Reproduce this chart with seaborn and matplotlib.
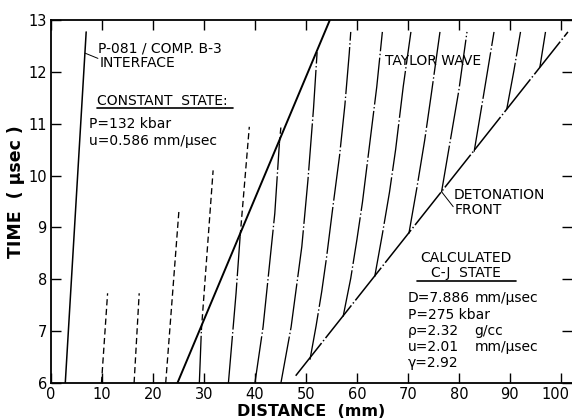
import matplotlib
matplotlib.use("Agg")
import matplotlib.pyplot as plt
import matplotlib.transforms as mtransforms
import seaborn as sns

# ---- data: distance (mm) and time (usec) -------------------------------
interface_x = [2.8, 6.9]
interface_t = [6.0, 12.77]

tail_x = [24.8, 54.7]
tail_t = [6.0, 13.0]

front_x = [48.0, 101.4]
front_t = [6.14, 12.77]

# particle paths inside the Taylor wave (dash-dot)
taylor_x = [
    [29.1, 29.5],
    [34.8, 36.3, 37.1],
    [40.0, 41.6, 43.9, 44.8],
    [45.1, 47.1, 49.2, 50.4, 51.5, 52.2],
    [50.8, 52.0, 53.1, 54.05, 55.3, 56.6, 57.65, 58.5, 58.8],
    [57.3, 58.8, 60.0, 61.1, 62.5, 63.9, 65.0],
    [63.5, 65.0, 66.4, 67.6, 69.1, 70.6],
    [70.2, 71.8, 73.3, 74.6, 76.3],
    [76.6, 78.3, 80.0, 81.6],
    [83.0, 84.8, 86.9],
    [89.4, 90.8, 92.1],
    [95.9, 97.0],
]
taylor_t = [
    [6.0, 7.02],
    [6.0, 7.73, 8.83],
    [6.0, 7.08, 9.27, 10.62],
    [6.0, 7.08, 8.63, 9.91, 11.3, 12.38],
    [6.45, 7.1, 7.76, 8.42, 9.4, 10.38, 11.36, 12.35, 12.77],
    [7.28, 8.02, 8.76, 9.49, 10.6, 11.71, 12.77],
    [8.05, 8.87, 9.68, 10.5, 11.72, 12.77],
    [8.88, 9.78, 10.68, 11.57, 12.77],
    [9.68, 10.66, 11.64, 12.77],
    [10.46, 11.52, 12.77],
    [11.28, 12.02, 12.77],
    [12.09, 12.77],
]

# particle paths in the constant state (dashed)
const_x = [
    [9.9, 11.1],
    [16.3, 17.3],
    [22.5, 25.1],
    [29.5, 31.8],
    [37.1, 38.9],
    [44.8, 45.1],
]
const_t = [
    [6.0, 7.73],
    [6.0, 7.73],
    [6.0, 9.33],
    [7.02, 10.1],
    [8.83, 10.94],
    [10.62, 10.94],
]

x_ticks = [0, 10, 20, 30, 40, 50, 60, 70, 80, 90, 100]
t_ticks = [6, 7, 8, 9, 10, 11, 12, 13]

constant_state = ["P=132 kbar", "u=0.586 mm/\u03bcsec"]
cj_names = ["D=7.886", "P=275 kbar", "\u03c1=2.32", "u=2.01", "\u03b3=2.92"]
cj_units = ["mm/\u03bcsec", "", "g/cc", "mm/\u03bcsec", ""]

# ---- figure ---------------------------------------------------------------
sns.set_theme(style="ticks")
plt.rcParams['font.family'] = ['DejaVu Sans']
plt.rcParams['lines.scale_dashes'] = False
INK = "black"
plt.rcParams.update({"text.color": INK, "axes.labelcolor": INK,
                     "xtick.color": INK, "ytick.color": INK})

fig = plt.figure(figsize=(5.72, 4.19), dpi=100)
ax = fig.add_axes([51 / 572, 36 / 419, 521 / 572, 363 / 419])

DASHDOT = (0, (34, 1.8, 1, 1.8))
DASHED = (0, (4.5, 2.5))


def path(xs, ts, lw, ls):
    sns.lineplot(x=xs, y=ts, ax=ax, sort=False, estimator=None,
                 color=INK, linewidth=lw, linestyle=ls)


path(interface_x, interface_t, 1.1, "-")
path(tail_x, tail_t, 1.4, "-")
path(front_x, front_t, 1.1, (0, (30, 1.8, 1, 1.8)))

for xs, ts in zip(taylor_x, taylor_t):
    path(xs, ts, 0.95, DASHDOT)

for xs, ts in zip(const_x, const_t):
    path(xs, ts, 0.95, DASHED)

ax.set_xlim(0, 102.2)
ax.set_ylim(6, 13)
ax.set_xticks(x_ticks)
ax.set_xticklabels([str(v) for v in x_ticks])
ax.set_yticks(t_ticks)
ax.tick_params(direction="in", length=7, width=1.0, top=True, right=True,
               labelsize=10.5, pad=3)
for side in ["left", "bottom", "top"]:
    ax.spines[side].set_linewidth(1.3)
    ax.spines[side].set_color(INK)
ax.spines["right"].set_visible(False)

# keep the last distance label inside the figure edge
last = ax.get_xticklabels()[-1]
last.set_transform(last.get_transform() +
                   mtransforms.ScaledTranslation(-4 / 72, 0, fig.dpi_scale_trans))

ax.set_xlabel("DISTANCE  (mm)", fontsize=11.5, fontweight="bold", labelpad=1)
ax.set_ylabel("TIME  ( \u03bcsec )", fontsize=12.5, fontweight="bold")
ax.yaxis.set_label_coords(-0.05, 0.526)

# ---- annotations -----------------------------------------------------------
fs = 10
ax.text(9.2, 12.46, "P-081 / COMP. B-3", fontsize=fs, va="center", ha="left")
ax.text(9.6, 12.17, "INTERFACE", fontsize=fs, va="center", ha="left")
ax.plot([6.7, 9.2], [12.36, 12.26], color=INK, lw=0.7)

ax.text(9.1, 11.36, "CONSTANT  STATE:", fontsize=fs, va="baseline", ha="left")
ax.plot([8.95, 35.75], [11.31, 11.31], color=INK, lw=1.2)
for i, line in enumerate(constant_state):
    ax.text(7.4, 11.0 - 0.33 * i, line, fontsize=fs, va="center", ha="left")

ax.text(65.5, 12.2, "TAYLOR WAVE", fontsize=fs, va="center", ha="left")

ax.text(78.9, 9.62, "DETONATION", fontsize=fs, va="center", ha="left")
ax.text(79.2, 9.33, "FRONT", fontsize=fs, va="center", ha="left")
ax.plot([76.6, 78.9], [9.69, 9.40], color=INK, lw=0.7)

ax.text(81.3, 8.41, "CALCULATED", fontsize=fs, va="center", ha="center")
ax.text(81.3, 8.125, "C-J  STATE", fontsize=fs, va="center", ha="center")
ax.plot([71.7, 91.2], [7.97, 7.97], color=INK, lw=1.2)

for i, (name, unit) in enumerate(zip(cj_names, cj_units)):
    t = 7.63 - 0.312 * i
    ax.text(70.0, t, name, fontsize=fs, va="center", ha="left")
    if unit:
        ax.text(83.1, t, unit, fontsize=fs, va="center", ha="left")

fig.savefig("out.png", dpi=100, facecolor="white")
